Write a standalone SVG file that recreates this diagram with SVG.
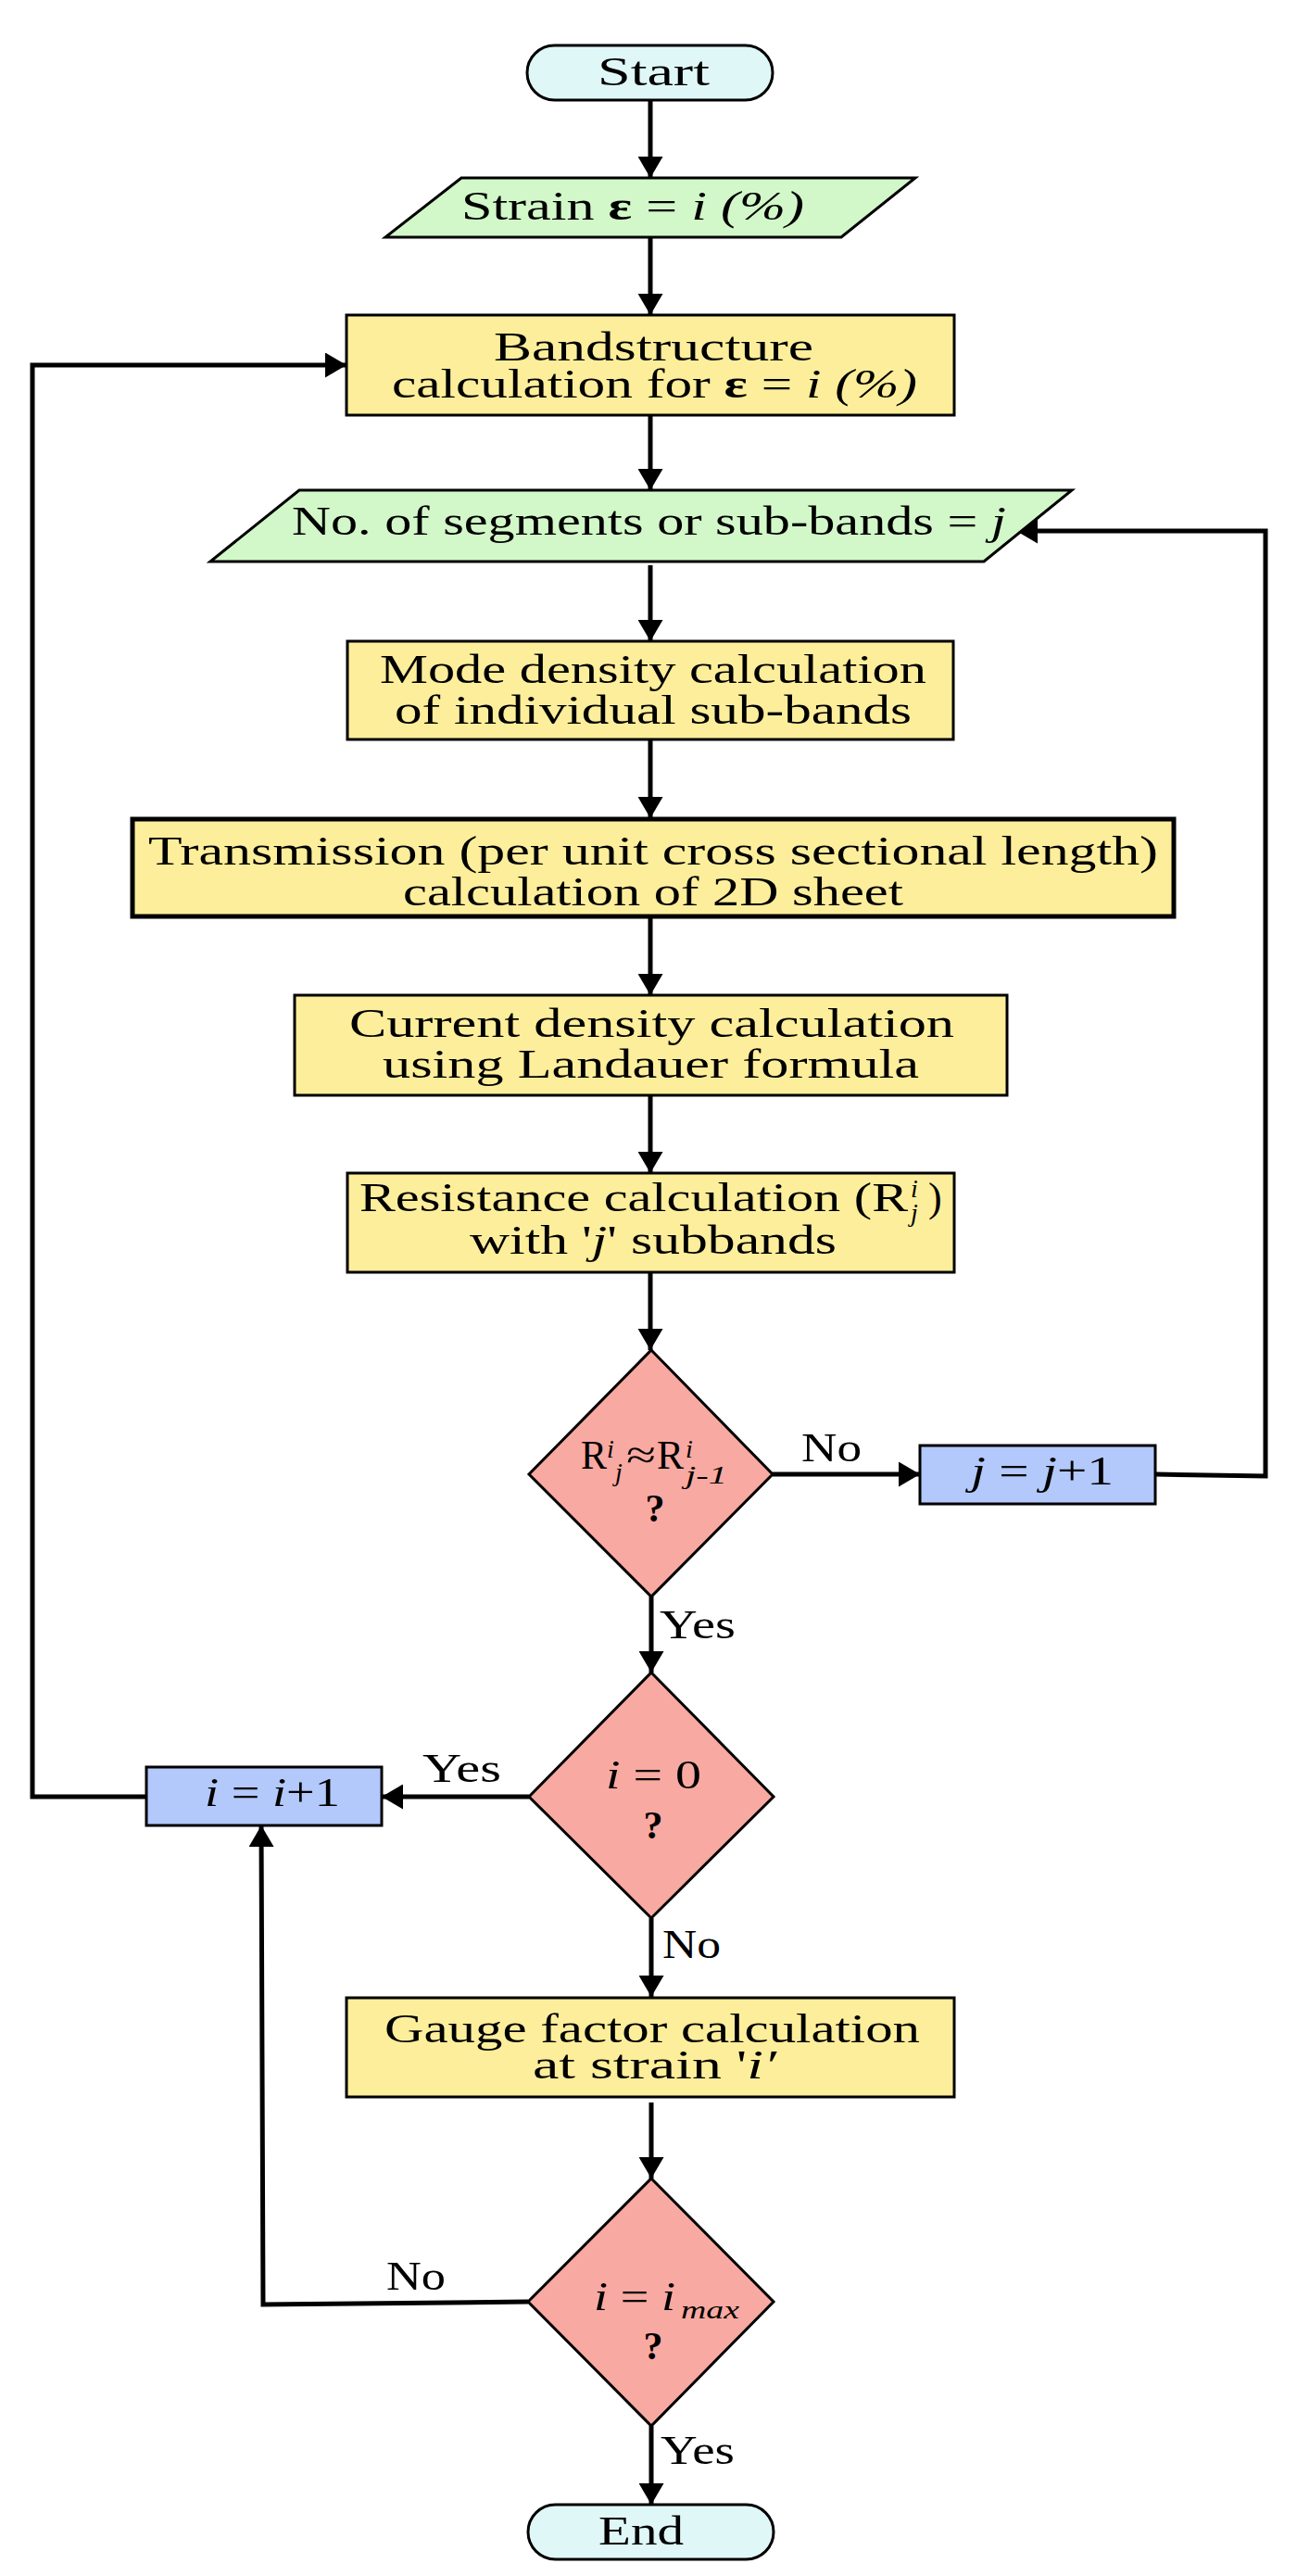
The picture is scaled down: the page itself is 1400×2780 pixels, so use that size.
<svg xmlns="http://www.w3.org/2000/svg" width="1400" height="2780" viewBox="0 0 1400 2780">
<defs>
<style>
.t{font-family:"Liberation Serif","Times New Roman",serif;font-size:44px;fill:#000}
.s{font-family:"Liberation Serif","Times New Roman",serif;font-size:28px;fill:#000;font-style:italic}
.it{font-style:italic}
.b{font-weight:bold}
.q{font-family:"Liberation Serif","Times New Roman",serif;font-size:42px;font-weight:bold;fill:#000}
.term{fill:#e0f7f8;stroke:#000;stroke-width:3}
.io{fill:#d2f8c9;stroke:#000;stroke-width:3}
.proc{fill:#fdee9b;stroke:#000;stroke-width:3}
.dec{fill:#f8a9a1;stroke:#000;stroke-width:3}
.upd{fill:#b3c8fb;stroke:#000;stroke-width:3}
.c{fill:none;stroke:#000;stroke-width:5;marker-end:url(#ah)}
</style>
<marker id="ah" markerUnits="userSpaceOnUse" markerWidth="24" markerHeight="27" refX="23" refY="13.5" orient="auto">
<path d="M0,0 L23,13.5 L0,27 z" fill="#000"/>
</marker>
</defs>
<rect width="1400" height="2780" fill="#fff"/>

<g id="connectors">
<path class="c" d="M702,108 L702,192"/>
<path class="c" d="M702,256 L702,340"/>
<path class="c" d="M702,448 L702,529"/>
<path class="c" d="M702,610 L702,692"/>
<path class="c" d="M702,798 L702,883"/>
<path class="c" d="M702,990 L702,1074"/>
<path class="c" d="M702,1182 L702,1266"/>
<path class="c" d="M702,1373 L702,1457"/>
<path class="c" d="M834,1591 L993,1591"/>
<path class="c" d="M1247,1591 L1366,1593 L1366,573 L1097,573"/>
<path class="c" d="M703,1723 L703,1805"/>
<path class="c" d="M571,1939 L412,1939"/>
<path class="c" d="M158,1939 L35,1939 L35,394 L374,394"/>
<path class="c" d="M703,2070 L703,2155"/>
<path class="c" d="M703,2269 L703,2351"/>
<path class="c" d="M570,2484 L284,2487 L282,1970"/>
<path class="c" d="M703,2618 L703,2703"/>
</g>

<g id="start">
<rect class="term" x="569" y="49" width="265" height="59" rx="29.5"/>
<text class="t" x="645" y="92" textLength="121" lengthAdjust="spacingAndGlyphs">Start</text>
</g>

<g id="strain">
<polygon class="io" points="498,192 988,192 908,256 416,256"/>
<text class="t" x="498" y="237" textLength="370" lengthAdjust="spacingAndGlyphs">Strain <tspan class="b">ε</tspan> = <tspan class="it">i (%)</tspan></text>
</g>

<g id="bandstructure">
<rect class="proc" x="374" y="340" width="656" height="108"/>
<text class="t" x="533" y="389" textLength="345" lengthAdjust="spacingAndGlyphs">Bandstructure</text>
<text class="t" x="423" y="429" textLength="567" lengthAdjust="spacingAndGlyphs">calculation for <tspan class="b">ε</tspan> = <tspan class="it">i (%)</tspan></text>
</g>

<g id="segments">
<polygon class="io" points="323,529 1157,529 1062,606 227,606"/>
<text class="t" x="315" y="577" textLength="771" lengthAdjust="spacingAndGlyphs">No. of segments or sub-bands = <tspan class="it">j</tspan></text>
</g>

<g id="mode-density">
<rect class="proc" x="375" y="692" width="654" height="106"/>
<text class="t" x="410" y="737" textLength="590" lengthAdjust="spacingAndGlyphs">Mode density calculation</text>
<text class="t" x="426" y="781" textLength="558" lengthAdjust="spacingAndGlyphs">of individual sub-bands</text>
</g>

<g id="transmission">
<rect class="proc" x="143" y="884" width="1124" height="105" style="stroke-width:5"/>
<text class="t" x="160" y="933" textLength="1090" lengthAdjust="spacingAndGlyphs">Transmission (per unit cross sectional length)</text>
<text class="t" x="435" y="977" textLength="540" lengthAdjust="spacingAndGlyphs">calculation of 2D sheet</text>
</g>

<g id="current-density">
<rect class="proc" x="318" y="1074" width="769" height="108"/>
<text class="t" x="377" y="1119" textLength="653" lengthAdjust="spacingAndGlyphs">Current density calculation</text>
<text class="t" x="413" y="1163" textLength="579" lengthAdjust="spacingAndGlyphs">using Landauer formula</text>
</g>

<g id="resistance">
<rect class="proc" x="375" y="1266" width="655" height="107"/>
<text class="t" x="388" y="1307" textLength="592" lengthAdjust="spacingAndGlyphs">Resistance calculation (R</text>
<text class="s" x="983" y="1292">i</text>
<text class="s" x="983" y="1318">j</text>
<text class="t" x="1002" y="1307">)</text>
<text class="t" x="507" y="1353" textLength="396" lengthAdjust="spacingAndGlyphs">with '<tspan class="it">j</tspan>' subbands</text>
</g>

<g id="decision-r">
<polygon class="dec" points="703,1457 834,1591 703,1723 571,1591"/>
<text class="t" x="627" y="1585" textLength="28" lengthAdjust="spacingAndGlyphs">R</text>
<text class="s" x="655" y="1573">i</text>
<text class="s" x="664" y="1598">j</text>
<text class="t" x="676" y="1585" textLength="32" lengthAdjust="spacingAndGlyphs">≈</text>
<text class="t" x="709" y="1585" textLength="29" lengthAdjust="spacingAndGlyphs">R</text>
<text class="s" x="740" y="1573">i</text>
<text class="s" x="740" y="1601" textLength="45" lengthAdjust="spacingAndGlyphs">j-1</text>
<text class="q" x="707" y="1642" text-anchor="middle">?</text>
</g>

<g id="j-update">
<rect class="upd" x="993" y="1560" width="254" height="63"/>
<text class="t" x="1048" y="1602" textLength="154" lengthAdjust="spacingAndGlyphs"><tspan class="it">j</tspan> = <tspan class="it">j</tspan>+1</text>
</g>

<g id="decision-i0">
<polygon class="dec" points="703,1805 835,1939 703,2070 571,1939"/>
<text class="t" x="654" y="1930" textLength="103" lengthAdjust="spacingAndGlyphs"><tspan class="it">i</tspan> = 0</text>
<text class="q" x="705" y="1984" text-anchor="middle">?</text>
</g>

<g id="i-update">
<rect class="upd" x="158" y="1907" width="254" height="63"/>
<text class="t" x="221" y="1949" textLength="146" lengthAdjust="spacingAndGlyphs"><tspan class="it">i</tspan> = <tspan class="it">i</tspan>+1</text>
</g>

<g id="gauge">
<rect class="proc" x="374" y="2156" width="656" height="107"/>
<text class="t" x="415" y="2204" textLength="578" lengthAdjust="spacingAndGlyphs">Gauge factor calculation</text>
<text class="t" x="575" y="2243" textLength="263" lengthAdjust="spacingAndGlyphs">at strain '<tspan class="it">i′</tspan></text>
</g>

<g id="decision-imax">
<polygon class="dec" points="703,2351 835,2484 703,2618 570,2484"/>
<text class="t" x="641" y="2493" textLength="88" lengthAdjust="spacingAndGlyphs"><tspan class="it">i</tspan> = <tspan class="it">i</tspan></text>
<text class="s" x="735" y="2502" textLength="63" lengthAdjust="spacingAndGlyphs">max</text>
<text class="q" x="705" y="2546" text-anchor="middle">?</text>
</g>

<g id="end">
<rect class="term" x="570" y="2703" width="265" height="59" rx="29.5"/>
<text class="t" x="646" y="2746" textLength="92" lengthAdjust="spacingAndGlyphs">End</text>
</g>

<g id="labels">
<text class="t" x="865" y="1577" textLength="65" lengthAdjust="spacingAndGlyphs">No</text>
<text class="t" x="712" y="1768" textLength="82" lengthAdjust="spacingAndGlyphs">Yes</text>
<text class="t" x="456" y="1923" textLength="85" lengthAdjust="spacingAndGlyphs">Yes</text>
<text class="t" x="715" y="2113" textLength="63" lengthAdjust="spacingAndGlyphs">No</text>
<text class="t" x="417" y="2471" textLength="64" lengthAdjust="spacingAndGlyphs">No</text>
<text class="t" x="713" y="2659" textLength="80" lengthAdjust="spacingAndGlyphs">Yes</text>
</g>
</svg>
